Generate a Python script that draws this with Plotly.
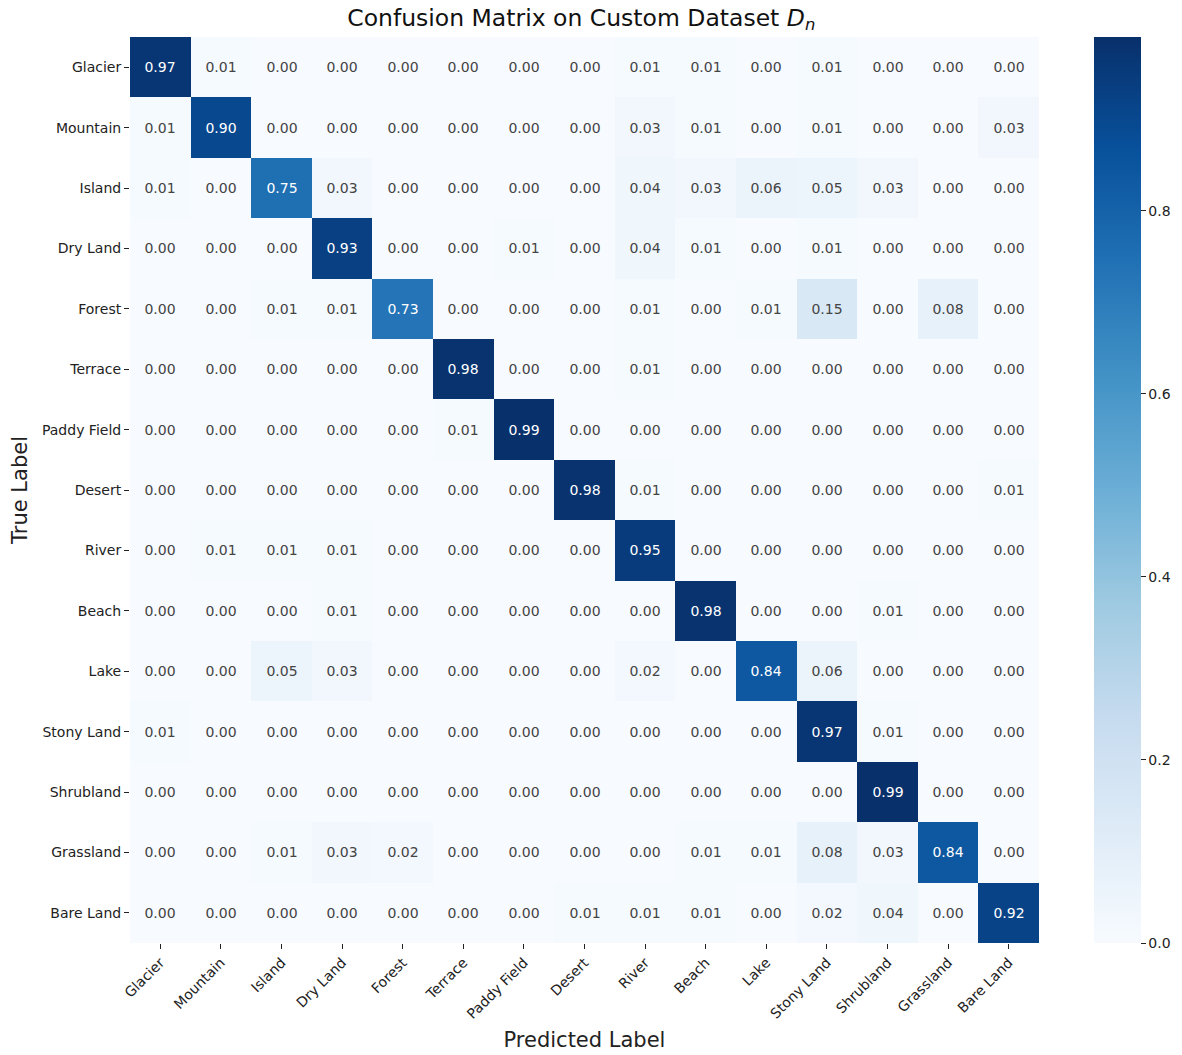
import numpy as np
import plotly.graph_objects as go

labels = ['Glacier', 'Mountain', 'Island', 'Dry Land', 'Forest', 'Terrace', 'Paddy Field',
          'Desert', 'River', 'Beach', 'Lake', 'Stony Land', 'Shrubland', 'Grassland', 'Bare Land']

# rows = true label, columns = predicted label
glacier = [0.97, 0.01, 0.00, 0.00, 0.00, 0.00, 0.00, 0.00, 0.01, 0.01, 0.00, 0.01, 0.00, 0.00, 0.00]
mountain = [0.01, 0.90, 0.00, 0.00, 0.00, 0.00, 0.00, 0.00, 0.03, 0.01, 0.00, 0.01, 0.00, 0.00, 0.03]
island = [0.01, 0.00, 0.75, 0.03, 0.00, 0.00, 0.00, 0.00, 0.04, 0.03, 0.06, 0.05, 0.03, 0.00, 0.00]
dry_land = [0.00, 0.00, 0.00, 0.93, 0.00, 0.00, 0.01, 0.00, 0.04, 0.01, 0.00, 0.01, 0.00, 0.00, 0.00]
forest = [0.00, 0.00, 0.01, 0.01, 0.73, 0.00, 0.00, 0.00, 0.01, 0.00, 0.01, 0.15, 0.00, 0.08, 0.00]
terrace = [0.00, 0.00, 0.00, 0.00, 0.00, 0.98, 0.00, 0.00, 0.01, 0.00, 0.00, 0.00, 0.00, 0.00, 0.00]
paddy_field = [0.00, 0.00, 0.00, 0.00, 0.00, 0.01, 0.99, 0.00, 0.00, 0.00, 0.00, 0.00, 0.00, 0.00, 0.00]
desert = [0.00, 0.00, 0.00, 0.00, 0.00, 0.00, 0.00, 0.98, 0.01, 0.00, 0.00, 0.00, 0.00, 0.00, 0.01]
river = [0.00, 0.01, 0.01, 0.01, 0.00, 0.00, 0.00, 0.00, 0.95, 0.00, 0.00, 0.00, 0.00, 0.00, 0.00]
beach = [0.00, 0.00, 0.00, 0.01, 0.00, 0.00, 0.00, 0.00, 0.00, 0.98, 0.00, 0.00, 0.01, 0.00, 0.00]
lake = [0.00, 0.00, 0.05, 0.03, 0.00, 0.00, 0.00, 0.00, 0.02, 0.00, 0.84, 0.06, 0.00, 0.00, 0.00]
stony_land = [0.01, 0.00, 0.00, 0.00, 0.00, 0.00, 0.00, 0.00, 0.00, 0.00, 0.00, 0.97, 0.01, 0.00, 0.00]
shrubland = [0.00, 0.00, 0.00, 0.00, 0.00, 0.00, 0.00, 0.00, 0.00, 0.00, 0.00, 0.00, 0.99, 0.00, 0.00]
grassland = [0.00, 0.00, 0.01, 0.03, 0.02, 0.00, 0.00, 0.00, 0.00, 0.01, 0.01, 0.08, 0.03, 0.84, 0.00]
bare_land = [0.00, 0.00, 0.00, 0.00, 0.00, 0.00, 0.00, 0.01, 0.01, 0.01, 0.00, 0.02, 0.04, 0.00, 0.92]

cb_ticks = [0.0, 0.2, 0.4, 0.6, 0.8]

cm = np.array([glacier, mountain, island, dry_land, forest, terrace, paddy_field, desert,
               river, beach, lake, stony_land, shrubland, grassland, bare_land])

# matplotlib "Blues"
blues = ['#f7fbff', '#deebf7', '#c6dbef', '#9ecae1', '#6baed6',
         '#4292c6', '#2171b5', '#08519c', '#08306b']
colorscale = [[i / (len(blues) - 1), c] for i, c in enumerate(blues)]

fig = go.Figure()
fig.add_trace(go.Heatmap(
    z=cm, x=labels, y=labels,
    colorscale=colorscale, zmin=0, zmax=cm.max(),
    texttemplate='%{z:.2f}', textfont=dict(size=14, family='DejaVu Sans'),
    hovertemplate='True: %{y}<br>Pred: %{x}<br>%{z:.2f}<extra></extra>',
    colorbar=dict(
        x=1.0605, xanchor='left', y=0.5, yanchor='middle', len=1.0, lenmode='fraction',
        thickness=47, outlinewidth=0, xpad=0, ypad=0,
        tickvals=cb_ticks, ticktext=[f'{t:.1f}' for t in cb_ticks],
        ticks='outside', ticklen=5, tickcolor='#222', tickfont=dict(size=14, color='#222'),
    ),
))

fig.update_layout(
    width=1182, height=1055,
    margin=dict(l=122, r=151, t=29, b=120, autoexpand=False),
    plot_bgcolor='white', paper_bgcolor='white',
    font=dict(family='DejaVu Sans', color='#222'),
    title=dict(text='Confusion Matrix on Custom Dataset <i>D</i><sub><i>n</i></sub>',
               x=0.485, xanchor='center', y=0.999, yanchor='top',
               font=dict(size=23.5, color='#111')),
    xaxis=dict(title=dict(text='Predicted Label', font=dict(size=21), standoff=11),
               tickangle=-45, ticks='outside', ticklen=5, tickcolor='#222',
               tickfont=dict(size=14), showgrid=False, zeroline=False),
    yaxis=dict(title=dict(text='True Label', font=dict(size=21), standoff=10),
               autorange='reversed', ticks='outside', ticklen=5, tickcolor='#222',
               tickfont=dict(size=14), showgrid=False, zeroline=False),
)

fig.write_html('out.html')
